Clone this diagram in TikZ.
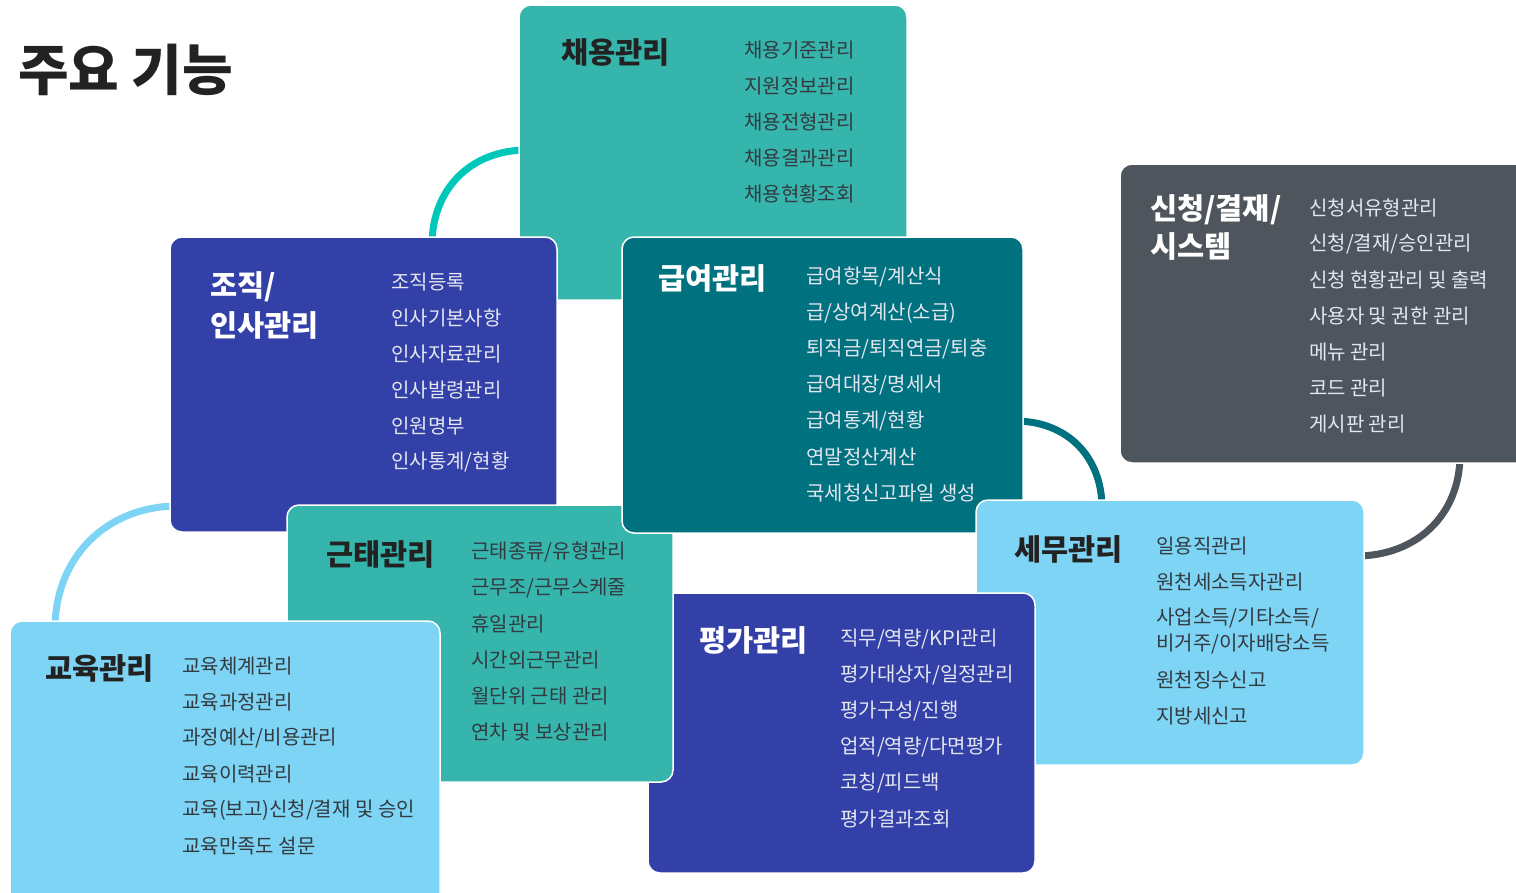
\documentclass[tikz,border=0pt]{standalone}
\usepackage{fontspec}
\setmainfont{Noto Sans CJK KR}
\usetikzlibrary{positioning}
\definecolor{tealbox}{HTML}{35B5AC}
\definecolor{indigobox}{HTML}{3340A8}
\definecolor{petrolbox}{HTML}{00717E}
\definecolor{slatebox}{HTML}{4E555C}
\definecolor{skybox}{HTML}{7DD4F5}
\definecolor{mintline}{HTML}{00C8B8}
\definecolor{ink}{HTML}{222222}
\definecolor{inkgray}{HTML}{333a40}
\definecolor{paletext}{HTML}{E4E6F0}
\pgfdeclarelayer{bg}
\pgfsetlayers{bg,main}
\tikzset{
  box/.style={draw=white, line width=1.5pt, rounded corners=12pt, anchor=north west,
              inner sep=0pt, outer sep=0pt},
  ttl/.style={anchor=west, inner sep=0pt, align=left,
              font=\fontsize{29.5}{40}\selectfont\bfseries},
  itm/.style={anchor=west, inner sep=0pt, font=\fontsize{20}{26}\selectfont},
  link/.style={line width=7pt, shorten <=-8pt, shorten >=-8pt},
}

\begin{document}
\begin{tikzpicture}[x=1pt, y=1pt]
    \useasboundingbox (0,0) rectangle (1516,-892);
    \clip (0,0) rectangle (1516,-892);

    \node[anchor=west, inner sep=0pt, text=ink, font=\fontsize{55}{62}\selectfont\bfseries]
        (heading) at (18,-70) {주요 기능};

    % boxes, back to front
    \node[box, fill=tealbox, minimum width=388pt, minimum height=295pt] (chaeyong) at (519,-5) {};
    \node[box, fill=indigobox, minimum width=387pt, minimum height=295pt] (jojik) at (170,-237) {};
    \node[box, fill=petrolbox, minimum width=401pt, minimum height=296pt] (geupyeo) at (622,-237) {};
    \node[box, fill=skybox, minimum width=388pt, minimum height=265pt] (semu) at (976,-500) {};
    \node[box, fill=indigobox, minimum width=387pt, minimum height=280pt] (pyeongga) at (648,-593) {};
    \node[box, fill=tealbox, minimum width=386pt, minimum height=277pt] (geuntae) at (287,-505) {};
    \node[box, fill=skybox, minimum width=430pt, minimum height=290pt] (gyoyuk) at (10,-621) {};
    \node[box, fill=slatebox, minimum width=420pt, minimum height=299pt] (sincheong) at (1120,-164) {};

    % petrol corner lies over geuntae
    \begin{scope}
        \clip (600,-495) rectangle (700,-548);
        \draw[draw=white, line width=1.5pt, rounded corners=12pt, fill=petrolbox]
            (geupyeo.north west) rectangle (geupyeo.south east);
    \end{scope}

    % connectors
    \begin{pgfonlayer}{bg}
        \draw[link, mintline] ([xshift=262pt]jojik.north west) to[out=90, in=180] ([yshift=-145pt]chaeyong.north west);
        \draw[link, skybox] ([xshift=45pt]gyoyuk.north west) to[out=90, in=180] ([yshift=-269pt]jojik.north west);
        \draw[link, petrolbox] ([yshift=-184pt]geupyeo.north east) to[out=0, in=90] ([xshift=126pt]semu.north west);
        \draw[link, slatebox] ([xshift=340pt]sincheong.south west) to[out=-90, in=0] ([yshift=-56pt]semu.north east);
    \end{pgfonlayer}

    % 채용관리
    \node[ttl, text=ink] (chaeyong-t) at ([shift={(42,-47)}]chaeyong.north west) {채용관리};
    \foreach \t [count=\i from 0] in {채용기준관리, 지원정보관리, 채용전형관리, 채용결과관리, 채용현황조회}
        \node[itm, text=inkgray] (chaeyong-\i) at ([shift={(225,-45-36*\i)}]chaeyong.north west) {\t};

    % 조직/인사관리
    \node[ttl, text=white] (jojik-t) at ([shift={(40,-68)}]jojik.north west) {조직/\\인사관리};
    \foreach \t [count=\i from 0] in {조직등록, 인사기본사항, 인사자료관리, 인사발령관리, 인원명부, 인사통계/현황}
        \node[itm, text=paletext] (jojik-\i) at ([shift={(221,-45-36*\i)}]jojik.north west) {\t};

    % 급여관리
    \node[ttl, text=white] (geupyeo-t) at ([shift={(36,-41)}]geupyeo.north west) {급여관리};
    \foreach \t [count=\i from 0] in {급여항목/계산식, 급/상여계산(소급), 퇴직금/퇴직연금/퇴충, 급여대장/명세서,
                                     급여통계/현황, 연말정산계산, 국세청신고파일 생성}
        \node[itm, text=paletext] (geupyeo-\i) at ([shift={(184,-40-36*\i)}]geupyeo.north west) {\t};

    % 신청/결재/시스템
    \node[ttl, text=white, font=\fontsize{29.5}{38}\selectfont\bfseries] (sincheong-t)
        at ([shift={(30,-63)}]sincheong.north west) {신청/결재/\\시스템};
    \foreach \t [count=\i from 0] in {신청서유형관리, 신청/결재/승인관리, 신청 현황관리 및 출력, 사용자 및 권한 관리,
                                     메뉴 관리, 코드 관리, 게시판 관리}
        \node[itm, text=paletext] (sincheong-\i) at ([shift={(189,-44-36*\i)}]sincheong.north west) {\t};

    % 근태관리
    \node[ttl, text=ink] (geuntae-t) at ([shift={(39,-49)}]geuntae.north west) {근태관리};
    \foreach \t [count=\i from 0] in {근태종류/유형관리, 근무조/근무스케줄, 휴일관리, 시간외근무관리,
                                     월단위 근태 관리, 연차 및 보상관리}
        \node[itm, text=inkgray] (geuntae-\i) at ([shift={(184,-47-36*\i)}]geuntae.north west) {\t};

    % 세무관리
    \node[ttl, text=ink] (semu-t) at ([shift={(38,-49)}]semu.north west) {세무관리};
    \foreach \dy/\t [count=\i from 0] in {46/일용직관리, 82/원천세소득자관리, 118/{사업소득/기타소득/},
                                         144/{비거주/이자배당소득}, 180/원천징수신고, 216/지방세신고}
        \node[itm, text=inkgray] (semu-\i) at ([shift={(180,-\dy)}]semu.north west) {\t};

    % 평가관리
    \node[ttl, text=white] (pyeongga-t) at ([shift={(51,-47)}]pyeongga.north west) {평가관리};
    \foreach \t [count=\i from 0] in {직무/역량/KPI관리, 평가대상자/일정관리, 평가구성/진행, 업적/역량/다면평가,
                                     코칭/피드백, 평가결과조회}
        \node[itm, text=paletext] (pyeongga-\i) at ([shift={(192,-46-36*\i)}]pyeongga.north west) {\t};

    % 교육관리
    \node[ttl, text=ink] (gyoyuk-t) at ([shift={(35,-47)}]gyoyuk.north west) {교육관리};
    \foreach \t [count=\i from 0] in {교육체계관리, 교육과정관리, 과정예산/비용관리, 교육이력관리,
                                     교육(보고)신청/결재 및 승인, 교육만족도 설문}
        \node[itm, text=inkgray] (gyoyuk-\i) at ([shift={(172,-45-36*\i)}]gyoyuk.north west) {\t};
\end{tikzpicture}
\end{document}
